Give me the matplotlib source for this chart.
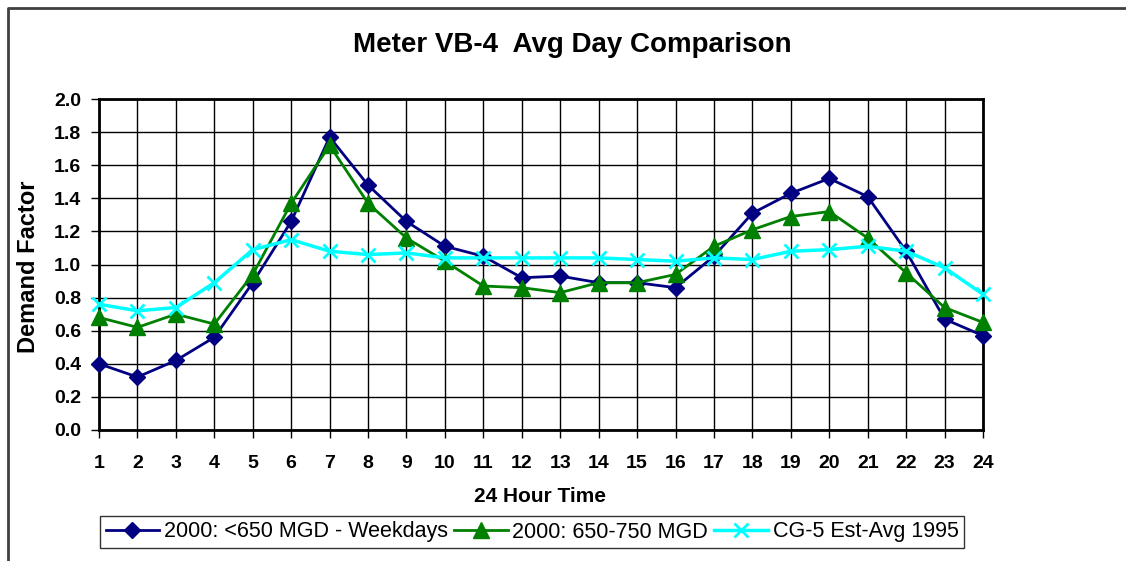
import matplotlib
matplotlib.use("Agg")
import matplotlib.pyplot as plt
from matplotlib.lines import Line2D

hours = list(range(1, 25))
weekdays_lt650 = [0.40, 0.32, 0.42, 0.56, 0.89, 1.26, 1.77, 1.48, 1.26, 1.11, 1.05, 0.92,
                  0.93, 0.89, 0.89, 0.86, 1.05, 1.31, 1.43, 1.52, 1.41, 1.08, 0.67, 0.57]
mgd_650_750 = [0.68, 0.62, 0.70, 0.64, 0.94, 1.37, 1.72, 1.37, 1.16, 1.02, 0.87, 0.86,
               0.83, 0.89, 0.89, 0.94, 1.11, 1.21, 1.29, 1.32, 1.16, 0.95, 0.74, 0.65]
cg5_1995 = [0.76, 0.72, 0.74, 0.89, 1.09, 1.15, 1.08, 1.06, 1.07, 1.04, 1.04, 1.04,
            1.04, 1.04, 1.03, 1.02, 1.04, 1.03, 1.08, 1.09, 1.11, 1.08, 0.98, 0.82]
labels = ["2000: <650 MGD - Weekdays", "2000: 650-750 MGD", "CG-5 Est-Avg 1995"]
title = "Meter VB-4  Avg Day Comparison"

plt.rcParams['font.family'] = ['Liberation Sans', 'DejaVu Sans']

W, H = 1126, 561
fig = plt.figure(figsize=(W / 100, H / 100), dpi=100)
ax = fig.add_axes([99/W, 1-430/H, (983-99)/W, (430-99)/H])

# outer chart border (top and left only visible)
fig.lines.append(Line2D([8/W, 8/W, 1.0], [0.0, 1-8/H, 1-8/H],
                        transform=fig.transFigure, color='#404040', linewidth=2))

ax.plot(hours, weekdays_lt650, color='#000080', marker='D', markersize=8,
        linewidth=2, label=labels[0], zorder=3, clip_on=False)
ax.plot(hours, mgd_650_750, color='#008000', marker='^', markersize=11,
        linewidth=2, label=labels[1], zorder=3, clip_on=False)
ax.plot(hours, cg5_1995, color='#00FFFF', marker='x', markersize=10,
        markeredgewidth=2, linewidth=2.5, label=labels[2], zorder=3, clip_on=False)

ax.set_xlim(1, 24)
ax.set_ylim(0, 2.0)
ax.set_xticks(hours)
ax.set_xticklabels([str(h) for h in hours], fontsize=14, fontweight='bold')
yt = [i * 0.2 for i in range(11)]
ax.set_yticks(yt)
ax.set_yticklabels([f"{v:.1f}" for v in yt], fontsize=14, fontweight='bold')
ax.grid(True, color='black', linewidth=1.0)
ax.set_axisbelow(True)
for s in ax.spines.values():
    s.set_linewidth(2)
    s.set_color('black')
ax.tick_params(axis='both', direction='out', length=6, width=1, colors='black')
ax.tick_params(axis='x', pad=12)
ax.tick_params(axis='y', pad=7)

ax.set_ylabel("Demand Factor", fontsize=17, fontweight='bold')
ax.yaxis.set_label_coords(29/W, 1-267/H, transform=fig.transFigure)
ax.set_xlabel("24 Hour Time", fontsize=15, fontweight='bold')
ax.xaxis.set_label_coords(540/W, 1-497/H, transform=fig.transFigure)
ax.xaxis.label.set_va('center')
ax.yaxis.label.set_va('center')
fig.text(572/W, 1-45/H, title, ha='center', va='center',
         fontsize=20, fontweight='bold')

leg = ax.legend(loc='center', bbox_to_anchor=(532/W, 1-532/H),
                bbox_transform=fig.transFigure, ncol=3, fontsize=15.5,
                frameon=True, fancybox=False, edgecolor='black',
                handlelength=2.5, columnspacing=0.3, handletextpad=0.2,
                borderpad=0.25, borderaxespad=0)
leg.get_frame().set_linewidth(1)

fig.savefig("out.png", dpi=100)
